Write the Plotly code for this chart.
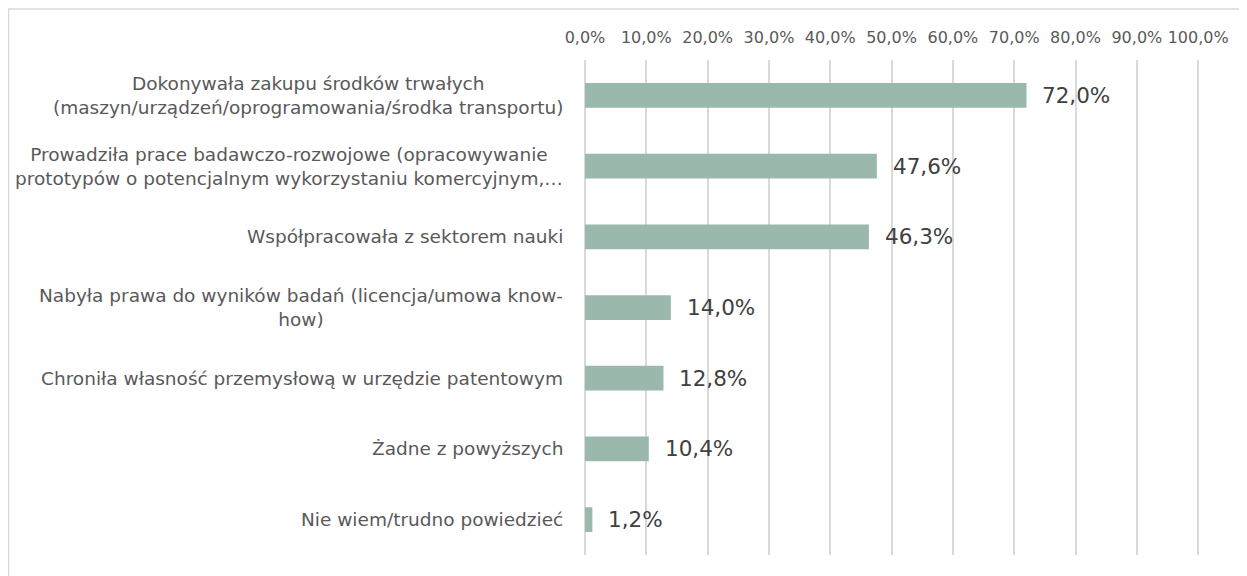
import plotly.graph_objects as go

categories = [
    "Dokonywała zakupu środków trwałych<br>(maszyn/urządzeń/oprogramowania/środka transportu)",
    "Prowadziła prace badawczo-rozwojowe (opracowywanie<br>prototypów o potencjalnym wykorzystaniu komercyjnym,…",
    "Współpracowała z sektorem nauki",
    "Nabyła prawa do wyników badań (licencja/umowa know-<br>how)",
    "Chroniła własność przemysłową w urzędzie patentowym",
    "Żadne z powyższych",
    "Nie wiem/trudno powiedzieć",
]
values = [72.0, 47.6, 46.3, 14.0, 12.8, 10.4, 1.2]
tick_values = [0, 10, 20, 30, 40, 50, 60, 70, 80, 90, 100]
tick_labels = ["0,0%", "10,0%", "20,0%", "30,0%", "40,0%", "50,0%",
               "60,0%", "70,0%", "80,0%", "90,0%", "100,0%"]

BAR = "#9AB8AB"
GRID = "#D9D9D9"
FONT = "DejaVu Sans"

# page body has an 8px margin, so the figure is sized/offset accordingly
W, H = 1239, 568
ML, MR, MT, MB = 577, 47, 52, 21

fig = go.Figure()
fig.add_trace(go.Bar(
    x=values, y=categories, orientation="h",
    marker=dict(color=BAR, line=dict(width=0)),
    width=0.35, hoverinfo="skip",
))

annotations = []
for c, v in zip(categories, values):
    annotations.append(dict(
        x=v, y=c, xref="x", yref="y", xanchor="left", yanchor="middle",
        xshift=14, showarrow=False,
        text=f"{v:.1f}%".replace(".", ","),
        font=dict(family=FONT, size=21.5, color="#404040"),
    ))
    annotations.append(dict(
        x=0, y=c, xref="paper", yref="y", xanchor="right", yanchor="middle",
        xshift=-20, showarrow=False, align="center",
        text=c,
        font=dict(family=FONT, size=18.5, color="#595959"),
    ))

pw = W - ML - MR
ph = H - MT - MB
fig.add_shape(
    type="rect", xref="paper", yref="paper", layer="below",
    x0=(0.5 - ML) / pw, x1=(W + 20 - ML) / pw,
    y0=-(MB + 20) / ph, y1=(H - MB - 1) / ph,
    line=dict(color=GRID, width=1.5), fillcolor="rgba(0,0,0,0)",
)

fig.update_layout(
    width=W, height=H,
    margin=dict(l=ML, r=MR, t=MT, b=MB, pad=0),
    paper_bgcolor="white", plot_bgcolor="white",
    showlegend=False,
    annotations=annotations,
    xaxis=dict(
        side="top", range=[0, 100.3], tickvals=tick_values, ticktext=tick_labels,
        showgrid=True, gridcolor=GRID, gridwidth=1.5,
        zeroline=True, zerolinecolor=GRID, zerolinewidth=1.5,
        ticks="outside", ticklen=10, tickcolor="rgba(0,0,0,0)",
        tickfont=dict(family=FONT, size=16, color="#595959"),
        fixedrange=True,
    ),
    yaxis=dict(
        autorange="reversed", showticklabels=False, showgrid=False,
        zeroline=False, fixedrange=True,
    ),
)

fig.write_html("out.html")
